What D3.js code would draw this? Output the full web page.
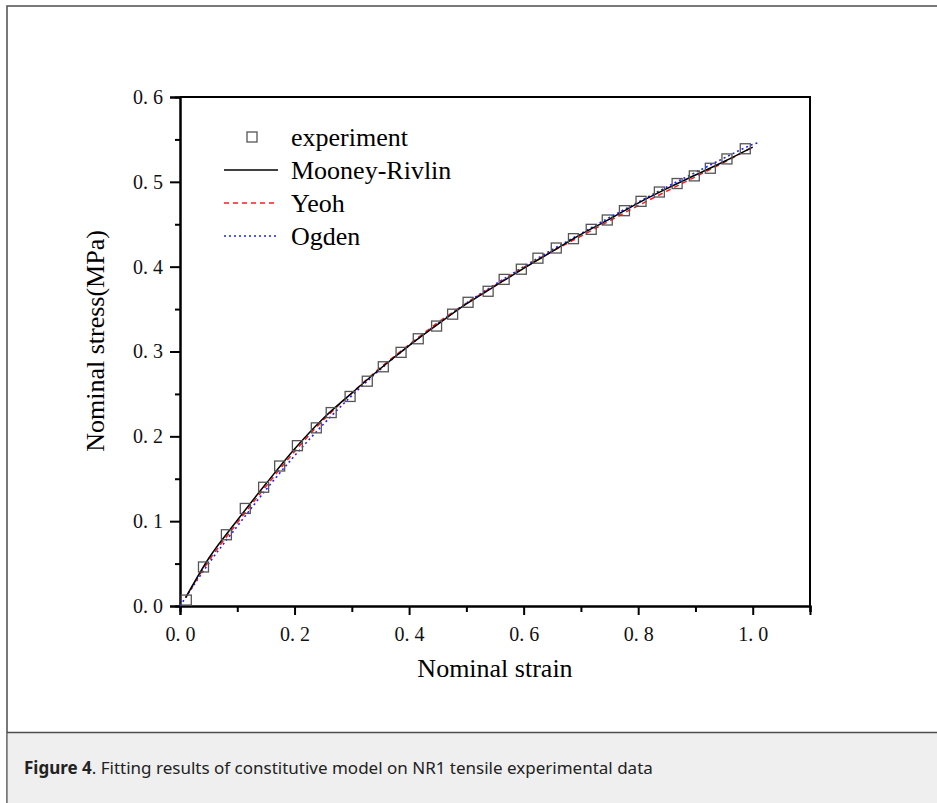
<!DOCTYPE html>
<html>
<head>
<meta charset="utf-8">
<script src="https://cdn.jsdelivr.net/npm/d3@7"></script>
<style>
  body { margin: 0; background: #fff; }
  .tick text { font-family: "Liberation Serif", "Times New Roman", serif; }
</style>
</head>
<body>
<div class="chart"></div>
<script>
// experiment points (nominal strain, nominal stress MPa)
const expStrain = [0.011, 0.041, 0.081, 0.114, 0.146, 0.174, 0.205, 0.238, 0.264, 0.297, 0.327,
    0.355, 0.386, 0.416, 0.448, 0.476, 0.503, 0.538, 0.566, 0.596, 0.625, 0.657, 0.687, 0.718,
    0.746, 0.776, 0.805, 0.837, 0.868, 0.898, 0.926, 0.955, 0.987];
const expStress = [0.007, 0.046, 0.084, 0.115, 0.140, 0.165, 0.189, 0.210, 0.228, 0.247, 0.265,
    0.282, 0.299, 0.315, 0.330, 0.344, 0.358, 0.371, 0.385, 0.397, 0.410, 0.422, 0.433, 0.444,
    0.455, 0.466, 0.477, 0.488, 0.498, 0.507, 0.516, 0.527, 0.539];

// fitted curves
const fitStrain = [0.01, 0.05, 0.1, 0.15, 0.2, 0.25, 0.3, 0.35, 0.4, 0.45, 0.5, 0.55, 0.6,
    0.65, 0.7, 0.75, 0.8, 0.85, 0.9, 0.95, 1.0];
const mooneyStress = [0.010, 0.056, 0.101, 0.144, 0.185, 0.221, 0.251, 0.280, 0.307, 0.332, 0.356,
    0.377, 0.398, 0.418, 0.438, 0.456, 0.475, 0.492, 0.508, 0.524, 0.541];
const yeohStress = [0.010, 0.053, 0.098, 0.141, 0.182, 0.219, 0.251, 0.281, 0.308, 0.334, 0.357,
    0.378, 0.399, 0.418, 0.436, 0.454, 0.472, 0.489, 0.506, 0.523, 0.541];
const ogdenStrain = [0.0, 0.05, 0.1, 0.15, 0.2, 0.25, 0.3, 0.35, 0.4, 0.45, 0.5, 0.55, 0.6,
    0.65, 0.7, 0.75, 0.8, 0.85, 0.9, 0.95, 1.0, 1.013];
const ogdenStress = [0.000, 0.050, 0.094, 0.137, 0.177, 0.214, 0.248, 0.279, 0.307, 0.333, 0.357,
    0.379, 0.400, 0.420, 0.439, 0.458, 0.476, 0.494, 0.511, 0.528, 0.544, 0.547];

const xMajor = [0, 0.2, 0.4, 0.6, 0.8, 1.0];
const xMinor = [0.1, 0.3, 0.5, 0.7, 0.9, 1.1];
const yMajor = [0, 0.1, 0.2, 0.3, 0.4, 0.5, 0.6];
const yMinor = [0.05, 0.15, 0.25, 0.35, 0.45, 0.55];

const width = 937;
const height = 803;
const svg = d3.select('.chart')
    .append('svg')
    .attr('width', width)
    .attr('height', height)

// outer figure box + caption band
svg.append("rect")
    .attr("x", 7).attr("y", 6)
    .attr("width", width).attr("height", height)
    .attr("fill", "none")
    .attr("stroke", "#4d4d4d")
    .attr("stroke-width", 1.5)
svg.append("rect")
    .attr("x", 7.75).attr("y", 733)
    .attr("width", width).attr("height", 70)
    .attr("fill", "#efefef")
svg.append("line")
    .attr("x1", 7).attr("x2", width)
    .attr("y1", 732.5).attr("y2", 732.5)
    .attr("stroke", "#4d4d4d")
    .attr("stroke-width", 1.5)

let caption = svg.append("text")
    .attr("x", 24)
    .attr("y", 774)
    .attr("font-family", "'Noto Sans', 'Open Sans', sans-serif")
    .attr("font-size", 17)
    .attr("fill", "#222")
caption.append("tspan").attr("font-weight", "bold").text("Figure 4")
caption.append("tspan").text(". Fitting results of constitutive model on NR1 tensile experimental data")

// plot area
const plotL = 180, plotR = 810, plotT = 97, plotB = 606;
const x = d3.scaleLinear().domain([0, 1.1]).range([plotL, plotR]);
const y = d3.scaleLinear().domain([0, 0.6]).range([plotB, plotT]);

const fmt = function(d) { return d3.format(".1f")(d).replace(".", ". "); };

svg.append("g")
    .attr("transform", "translate(0," + plotB + ")")
    .call(d3.axisBottom(x).tickValues(xMajor).tickSize(9).tickPadding(12).tickFormat(fmt))
    .call(g => g.selectAll("text").attr("font-size", 20).attr("fill", "#111"))
svg.append("g")
    .attr("transform", "translate(0," + plotB + ")")
    .call(d3.axisBottom(x).tickValues(xMinor).tickSize(6).tickFormat(""))
svg.append("g")
    .attr("transform", "translate(" + plotL + ",0)")
    .call(d3.axisLeft(y).tickValues(yMajor).tickSize(10).tickPadding(7).tickFormat(fmt))
    .call(g => g.selectAll("text").attr("font-size", 20).attr("fill", "#111"))
svg.append("g")
    .attr("transform", "translate(" + plotL + ",0)")
    .call(d3.axisLeft(y).tickValues(yMinor).tickSize(5).tickFormat(""))

svg.selectAll(".domain").attr("stroke-width", 2)
svg.selectAll(".tick line").attr("stroke-width", 2)

// top and right frame
svg.append("path")
    .attr("d", "M" + plotL + "," + plotT + "H" + plotR + "V" + plotB)
    .attr("fill", "none")
    .attr("stroke", "#000")
    .attr("stroke-width", 2)

// axis titles
svg.append("text")
    .text("Nominal strain")
    .attr("x", (plotL + plotR) / 2)
    .attr("y", 677)
    .attr("text-anchor", "middle")
    .attr("font-family", "'Liberation Serif', 'Times New Roman', serif")
    .attr("font-size", 26)
svg.append("text")
    .text("Nominal stress(MPa)")
    .attr("transform", "translate(104,341) rotate(-90)")
    .attr("text-anchor", "middle")
    .attr("font-family", "'Liberation Serif', 'Times New Roman', serif")
    .attr("font-size", 26)

// fitted curves
const line = d3.line()
    .x(function(d) { return x(d[0]); })
    .y(function(d) { return y(d[1]); })
    .curve(d3.curveMonotoneX)

svg.append("path")
    .datum(d3.zip(ogdenStrain, ogdenStress))
    .attr("d", line)
    .attr("fill", "none")
    .attr("stroke", "#2020ff")
    .attr("stroke-width", 1.6)
    .attr("stroke-dasharray", "2,3")
svg.append("path")
    .datum(d3.zip(fitStrain, yeohStress))
    .attr("d", line)
    .attr("fill", "none")
    .attr("stroke", "#ff1a1a")
    .attr("stroke-width", 1.5)
    .attr("stroke-dasharray", "5,4")
svg.append("path")
    .datum(d3.zip(fitStrain, mooneyStress))
    .attr("d", line)
    .attr("fill", "none")
    .attr("stroke", "#000")
    .attr("stroke-width", 1.5)

// experiment squares
svg.selectAll("rect.exp")
    .data(d3.zip(expStrain, expStress))
    .enter()
    .append("rect")
    .attr("class", "exp")
    .attr("x", function(d) { return x(d[0]) - 5; })
    .attr("y", function(d) { return y(d[1]) - 5; })
    .attr("width", 10)
    .attr("height", 10)
    .attr("fill", "none")
    .attr("stroke", "#555")
    .attr("stroke-width", 1.3)

// legend
const legendItems = ["experiment", "Mooney-Rivlin", "Yeoh", "Ogden"];
const legend = svg.append("g").attr("transform", "translate(224,137)")
legend.selectAll("text")
    .data(legendItems)
    .enter()
    .append("text")
    .text(function(d) { return d; })
    .attr("x", 67)
    .attr("y", function(d, i) { return i * 33 + 9; })
    .attr("font-family", "'Liberation Serif', 'Times New Roman', serif")
    .attr("font-size", 26)
legend.append("rect")
    .attr("x", 23).attr("y", -5)
    .attr("width", 10).attr("height", 10)
    .attr("fill", "none")
    .attr("stroke", "#555")
    .attr("stroke-width", 1.3)
legend.append("line")
    .attr("x1", 0).attr("x2", 54).attr("y1", 33).attr("y2", 33)
    .attr("stroke", "#000").attr("stroke-width", 1.5)
legend.append("line")
    .attr("x1", 0).attr("x2", 54).attr("y1", 66).attr("y2", 66)
    .attr("stroke", "#ff1a1a").attr("stroke-width", 1.5).attr("stroke-dasharray", "5,4")
legend.append("line")
    .attr("x1", 0).attr("x2", 54).attr("y1", 99).attr("y2", 99)
    .attr("stroke", "#2020ff").attr("stroke-width", 1.6).attr("stroke-dasharray", "2,3")
</script>
</body>
</html>
